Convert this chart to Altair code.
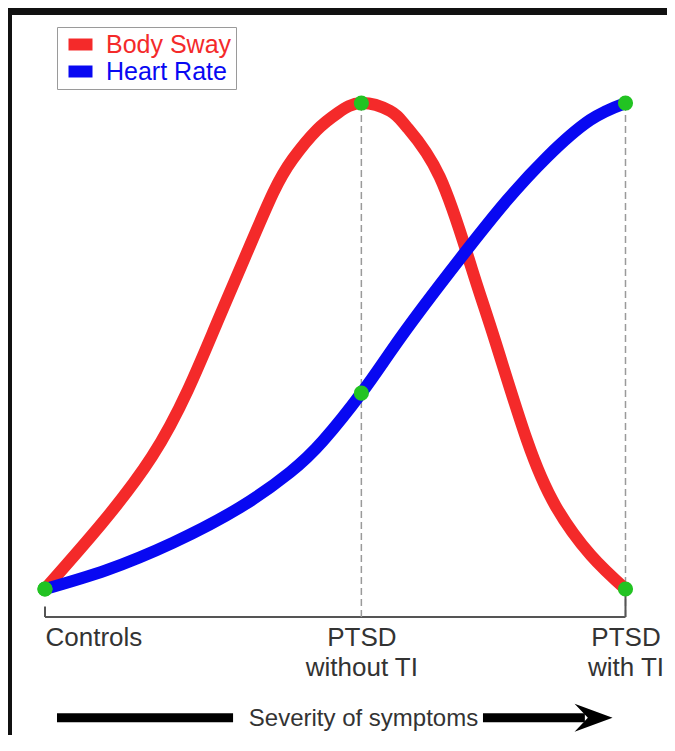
import json
import altair as alt
import pandas as pd

# ---------------- data ----------------
series_names = ["Body Sway", "Heart Rate"]
series_colors = ["#f42a2a", "#0808f2"]

sway_x = [0, 0.098, 0.184, 0.246, 0.296, 0.345, 0.393, 0.427, 0.468, 0.505, 0.545,
          0.594, 0.623, 0.680, 0.735, 0.775, 0.830, 0.880, 0.940, 1.0]
sway_y = [0, 0.135, 0.272, 0.409, 0.547, 0.684, 0.815, 0.885, 0.944, 0.980, 1.0,
          0.984, 0.951, 0.848, 0.660, 0.512, 0.307, 0.170, 0.070, 0.0]

hr_x = [0, 0.106, 0.220, 0.336, 0.422, 0.479, 0.545, 0.594, 0.651, 0.727, 0.796, 0.865, 0.939, 1.0]
hr_y = [0, 0.039, 0.095, 0.168, 0.240, 0.305, 0.403, 0.486, 0.580, 0.698, 0.800, 0.889, 0.965, 1.0]

group_x = [0, 0.545, 1.0]
group_labels = [["Controls"], ["PTSD", "without TI"], ["PTSD", "with TI"]]
sway_at_groups = [0, 1.0, 0.0]
hr_at_groups = [0, 0.403, 1.0]

x_domain = [-0.0637, 1.0715]
y_domain = [-0.0576, 1.1955]

arrow_left = [0.0207, 0.324]
arrow_right = [0.7545, 0.930]
arrow_head_x = 0.945
arrow_y = -0.265

axis_title = "Severity of symptoms"

# ---------------- tables ----------------
lines_df = pd.DataFrame(
    [{"x": a, "y": b, "series": series_names[0], "order": i} for i, (a, b) in enumerate(zip(sway_x, sway_y))]
    + [{"x": a, "y": b, "series": series_names[1], "order": i} for i, (a, b) in enumerate(zip(hr_x, hr_y))]
)
points_df = pd.DataFrame(
    [{"x": a, "y": b} for a, b in zip(group_x, sway_at_groups)]
    + [{"x": a, "y": b} for a, b in zip(group_x, hr_at_groups)]
)
dashed_df = pd.DataFrame({"x": group_x[1:], "y": [y_domain[0]] * 2, "y2": [1.0, 1.0]})
ticks_df = pd.DataFrame({"x": [group_x[0], group_x[2]], "y": [y_domain[0]] * 2, "y2": [-0.036, 0.0]})
base_df = pd.DataFrame({"x": [group_x[0]], "x2": [group_x[2]], "y": [y_domain[0]]})
arrow_df = pd.DataFrame({"x": [arrow_left[0], arrow_right[0]], "x2": [arrow_left[1], arrow_right[1]],
                         "y": [arrow_y, arrow_y]})
head_df = pd.DataFrame({"x": [arrow_head_x], "y": [arrow_y]})

label_expr = ""
for v, lab in zip(group_x, group_labels):
    label_expr += f"abs(datum.value - {v}) < 0.01 ? {json.dumps(lab)} : "
label_expr += "''"

FONT = "Liberation Sans"
W, H, PB = 659, 609, 118

xscale = alt.Scale(domain=x_domain, nice=False, zero=False)
yscale = alt.Scale(domain=y_domain, nice=False, zero=False)

xaxis = alt.Axis(
    values=group_x, labelExpr=label_expr, ticks=False, domain=False, grid=False,
    labelFont=FONT, labelFontSize=26, labelColor="#333333", labelPadding=7,
    labelLineHeight=30, labelOverlap=False, labelFlush=False, labelBound=False,
    labelAlign={"condition": {"test": "datum.value < 0.1", "value": "left"}, "value": "center"},
    title=axis_title, titleFont=FONT, titleFontSize=24, titleFontWeight="normal",
    titleColor="#333333", titleX=355, titleY=101, titleBaseline="middle", titleAlign="center",
)

X = alt.X("x:Q", scale=xscale, axis=xaxis)
Y = alt.Y("y:Q", scale=yscale, axis=None)

dashed = alt.Chart(dashed_df).mark_rule(color="#9a9a9a", strokeWidth=1.5, strokeDash=[7, 4]).encode(
    x=X, y=Y, y2="y2:Q")
ticks = alt.Chart(ticks_df).mark_rule(color="#555555", strokeWidth=2).encode(x=X, y=Y, y2="y2:Q")
base = alt.Chart(base_df).mark_rule(color="#555555", strokeWidth=2).encode(x=X, x2="x2:Q", y=Y)

lines = alt.Chart(lines_df).mark_line(interpolate="natural", strokeWidth=12, strokeCap="round").encode(
    x=X, y=Y, order="order:Q",
    color=alt.Color("series:N", scale=alt.Scale(domain=series_names, range=series_colors),
                    legend=alt.Legend(
                        orient="none", legendX=49, legendY=19, title=None,
                        symbolType="M-2,0L2,0", symbolSize=144, symbolStrokeWidth=12,
                        symbolOffset=7, labelOffset=13, rowPadding=0, padding=4, clipHeight=27,
                        labelFont=FONT, labelFontSize=25,
                        labelColor={"expr": f"datum.label == '{series_names[0]}' ? '{series_colors[0]}' : '{series_colors[1]}'"},
                        strokeColor="#9a9a9a", fillColor="white")),
)

points = alt.Chart(points_df).mark_circle(size=230, color="#22c322", opacity=1).encode(x=X, y=Y)

arrow = alt.Chart(arrow_df).mark_rule(color="black", strokeWidth=9).encode(x=X, x2="x2:Q", y=Y)
head = alt.Chart(head_df).mark_point(shape="M1,0L-1,-0.74L-0.3,0L-1,0.74Z", size=1444,
                                     filled=True, color="black", opacity=1).encode(x=X, y=Y)

frame_top = alt.Chart(alt.Data(values=[{}])).mark_rule(color="#111111", strokeWidth=7).encode(
    x=alt.value(0), x2=alt.value(W), y=alt.value(3.5))
frame_left = alt.Chart(alt.Data(values=[{}])).mark_rule(color="#111111", strokeWidth=4).encode(
    x=alt.value(2), y=alt.value(0), y2=alt.value(H + PB))

chart = alt.layer(base, dashed, ticks, lines, points, arrow, head, frame_top, frame_left).properties(
    width=W, height=H, padding={"left": 0, "top": 0, "right": 0, "bottom": PB},
    autosize=alt.AutoSizeParams(type="none"),
    background="white",
).configure_view(stroke=None)

chart.save("out.html", embed_options={"renderer": "svg", "actions": False})
